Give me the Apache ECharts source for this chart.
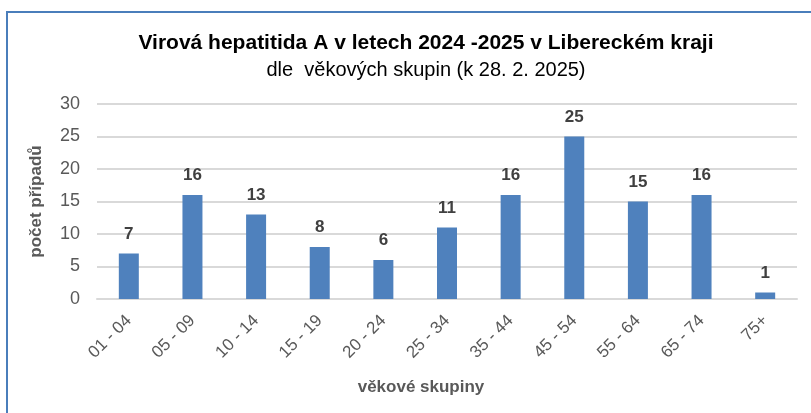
<!DOCTYPE html>
<html>
<head>
<meta charset="utf-8">
<script src="https://cdn.jsdelivr.net/npm/echarts@6/dist/echarts.min.js"></script>
<style>
  html, body { margin: 0; padding: 0; background: #fff; }
  #frame { position: absolute; left: 6px; top: 11px; width: 820px; height: 420px; border: 2px solid #4A7EBB; box-sizing: border-box; }
  #chart { position: absolute; left: 0; top: 0; width: 811px; height: 413px; }
</style>
</head>
<body>
<div id="frame"></div>
<div id="chart"></div>
<script>
const categories = ['01 - 04', '05 - 09', '10 - 14', '15 - 19', '20 - 24', '25 - 34', '35 - 44', '45 - 54', '55 - 64', '65 - 74', '75+'];
const cases = [7, 16, 13, 8, 6, 11, 16, 25, 15, 16, 1];
const yTicks = [0, 5, 10, 15, 20, 25, 30];

const chart = echarts.init(document.getElementById('chart'));
chart.setOption({
  animation: false,
  textStyle: { fontFamily: 'Liberation Sans, Arial, sans-serif' },
  title: {
    text: 'Virová hepatitida A v letech 2024 -2025 v Libereckém kraji',
    subtext: 'dle  věkových skupin (k 28. 2. 2025)',
    left: 421,
    textAlign: 'center',
    top: 28,
    itemGap: 6,
    textStyle: { fontSize: 21, fontWeight: 'bold', color: '#000' },
    subtextStyle: { fontSize: 20, color: '#000' }
  },
  grid: { left: 97, right: 14, top: 104, bottom: 114 },
  xAxis: {
    type: 'category',
    data: categories,
    name: 'věkové skupiny',
    nameLocation: 'middle',
    nameGap: 80,
    nameTextStyle: { fontSize: 17, fontWeight: 'bold', color: '#595959', padding: [0, 52, 0, 0] },
    axisLine: { lineStyle: { color: '#D9D9D9', width: 2 } },
    axisTick: { show: false },
    axisLabel: { rotate: 45, fontSize: 17, color: '#595959', margin: 19 }
  },
  yAxis: {
    type: 'value',
    min: yTicks[0],
    max: yTicks[yTicks.length - 1],
    interval: 5,
    name: 'počet případů',
    nameLocation: 'middle',
    nameGap: 52,
    nameTextStyle: { fontSize: 17, fontWeight: 'bold', color: '#595959' },
    axisLine: { show: false },
    axisTick: { show: false },
    axisLabel: { fontSize: 18, color: '#595959', margin: 17 },
    splitLine: { lineStyle: { color: '#D9D9D9', width: 2 } }
  },
  series: [{
    type: 'bar',
    data: cases,
    barWidth: 20,
    itemStyle: { color: '#4F81BD' },
    label: { show: true, position: 'top', distance: 11, fontSize: 17, fontWeight: 'bold', color: '#404040' }
  }]
});
</script>
</body>
</html>
